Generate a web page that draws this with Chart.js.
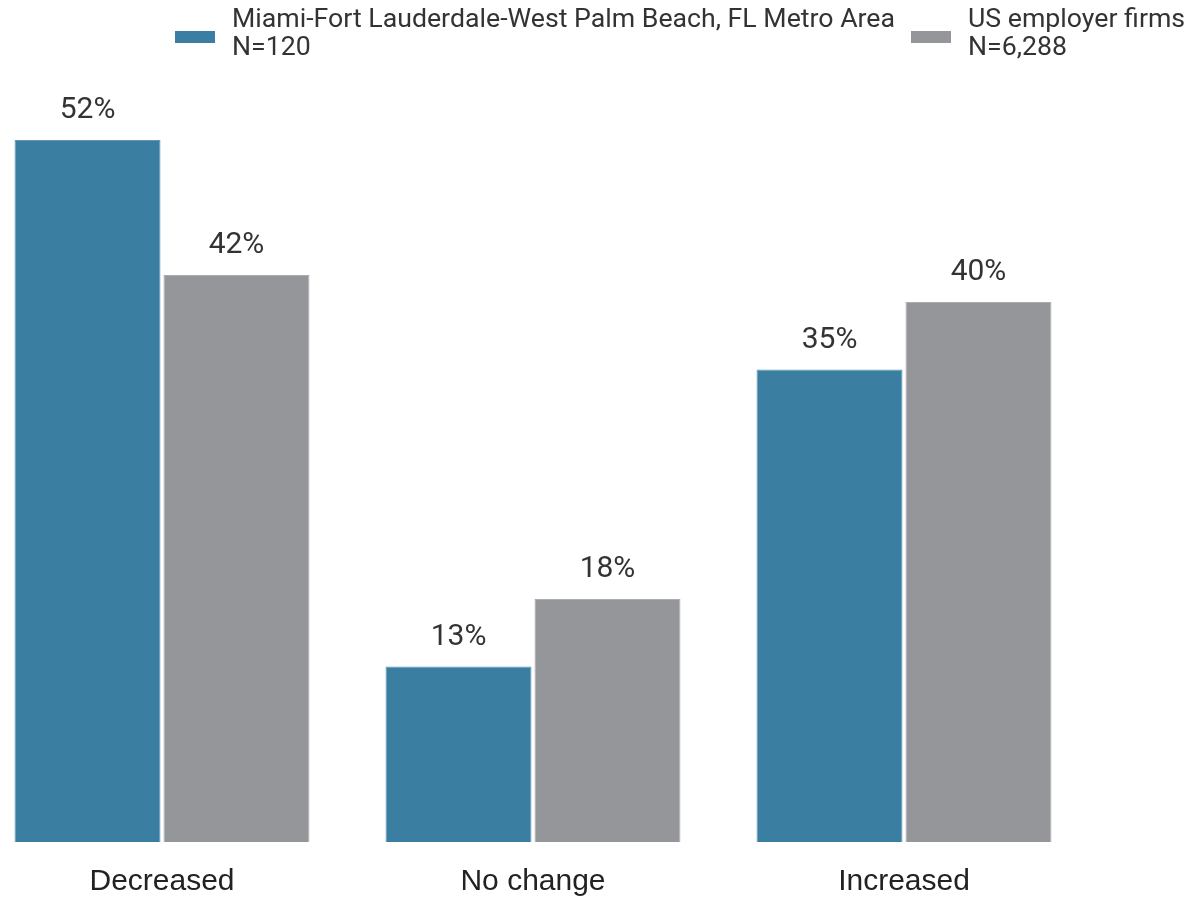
<!DOCTYPE html>
<html>
<head>
<meta charset="utf-8">
<script src="https://cdn.jsdelivr.net/npm/chart.js@4/dist/chart.umd.min.js"></script>
<style>
html,body{margin:0;padding:0;background:#fff;overflow:hidden;}
#wrap{position:relative;width:1194px;height:898px;overflow:hidden;}
canvas{position:absolute;left:0;top:0;}
</style>
</head>
<body>
<div id="wrap"><canvas id="c" width="1194" height="922"></canvas></div>
<script>
const categories = ["Decreased", "No change", "Increased"];
const seriesNames = [
  ["Miami-Fort Lauderdale-West Palm Beach, FL Metro Area", "N=120"],
  ["US employer firms", "N=6,288"]
];
const miamiValues = [52, 13, 35];
const usValues = [42, 18, 40];
const colors = ["#3a7ea1", "#95969a"];
const borderColors = ["#5f97b3", "#abacaf"];

const valueLabels = {
  id: 'valueLabels',
  afterDatasetsDraw(chart) {
    const ctx = chart.ctx;
    ctx.save();
    ctx.font = '30px Roboto';
    ctx.fillStyle = '#333333';
    ctx.textAlign = 'center';
    ctx.textBaseline = 'alphabetic';
    chart.data.datasets.forEach((ds, i) => {
      chart.getDatasetMeta(i).data.forEach((bar, j) => {
        ctx.fillText(ds.data[j] + '%', bar.x, bar.y - 22);
      });
    });
    ctx.restore();
  }
};

const topLegend = {
  id: 'topLegend',
  afterDraw(chart) {
    const ctx = chart.ctx;
    ctx.save();
    const boxes = [175, 911];
    ctx.font = '26.7px Roboto';
    ctx.textAlign = 'left';
    ctx.textBaseline = 'alphabetic';
    seriesNames.forEach((lines, i) => {
      ctx.fillStyle = colors[i];
      ctx.fillRect(boxes[i], 31, 40, 12);
      ctx.fillStyle = '#333333';
      lines.forEach((t, k) => ctx.fillText(t, boxes[i] + 57, 27 + k * 28));
    });
    ctx.restore();
  }
};

new Chart(document.getElementById('c'), {
  type: 'bar',
  data: {
    labels: categories,
    datasets: [
      { label: seriesNames[0].join(' '), data: miamiValues, backgroundColor: colors[0], borderColor: borderColors[0], borderWidth: 1, clip: false },
      { label: seriesNames[1].join(' '), data: usValues, backgroundColor: colors[1], borderColor: borderColors[1], borderWidth: 1, clip: false }
    ]
  },
  options: {
    responsive: false,
    animation: false,
    categoryPercentage: 0.803,
    barPercentage: 0.98,
    layout: { padding: { left: 162, right: 290, top: 32, bottom: 0 } },
    plugins: { legend: { display: false }, tooltip: { enabled: false } },
    scales: {
      x: {
        offset: false,
        grid: { display: false, drawTicks: false },
        border: { display: false },
        ticks: { font: { family: 'Liberation Sans', size: 30 }, color: '#222222', padding: 22, autoSkip: false, maxRotation: 0 }
      },
      y: {
        display: false,
        min: 0,
        max: 60
      }
    }
  },
  plugins: [valueLabels, topLegend]
});
</script>
</body>
</html>
